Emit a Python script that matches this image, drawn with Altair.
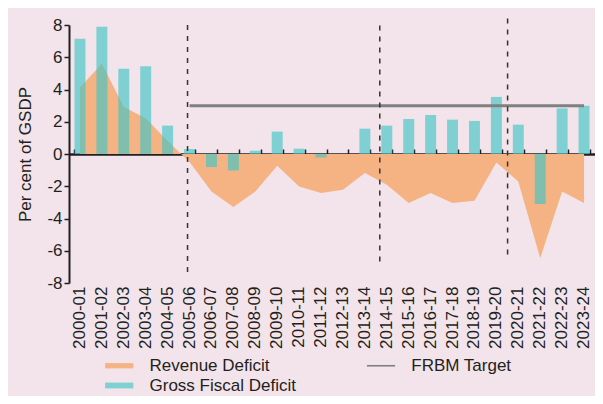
import altair as alt
import pandas as pd

years = ["2000-01", "2001-02", "2002-03", "2003-04", "2004-05", "2005-06",
         "2006-07", "2007-08", "2008-09", "2009-10", "2010-11", "2011-12",
         "2012-13", "2013-14", "2014-15", "2015-16", "2016-17", "2017-18",
         "2018-19", "2019-20", "2020-21", "2021-22", "2022-23", "2023-24"]
revenue_deficit = [4.13, 5.6, 2.92, 2.22, 0.8, -0.5, -2.32, -3.29, -2.32, -0.73,
                   -2.01, -2.42, -2.22, -1.18, -1.91, -3.04, -2.42, -3.04,
                   -2.9, -0.52, -1.7, -6.46, -2.32, -3.04]
gross_fiscal_deficit = [7.14, 7.89, 5.28, 5.44, 1.76, 0.31, -0.81, -1.02, 0.2, 1.39,
                        0.33, -0.22, 0.0, 1.57, 1.76, 2.17, 2.42, 2.13, 2.05, 3.54,
                        1.82, -3.1, 2.83, 3.0]
frbm_target = [None] * 5 + [3.0] * 19

vline_years = ["2005-06", "2014-15", "2020-21"]
vline_top = [8.0, 7.97, 8.4]
vline_bottom = [-7.4, -6.9, -6.46]
vline_shift = [-2, -7, -10.7]

y_ticks = [-8, -6, -4, -2, 0, 2, 4, 6, 8]
legend_names = ["Revenue Deficit", "FRBM Target", "Gross Fiscal Deficit"]
legend_colors = ["#f5b283", "#808080", "#7fd0d2"]
legend_shapes = ["M-2.82,-0.52L2.82,-0.52L2.82,0.52L-2.82,0.52Z",
                 "M-2.82,-0.16L2.82,-0.16L2.82,0.16L-2.82,0.16Z",
                 "M-2.82,-0.58L2.82,-0.58L2.82,0.58L-2.82,0.58Z"]

df = pd.DataFrame({"year": years, "rd": revenue_deficit,
                   "gfd": gross_fiscal_deficit, "frbm": frbm_target})
vdf = pd.DataFrame({"year": vline_years, "top": vline_top, "bottom": vline_bottom})
ldf = pd.DataFrame({"series": legend_names})

INK = "#231f20"
FONT = "Liberation Sans"

xscale = alt.Scale(paddingInner=0.5, paddingOuter=0.25)
yscale = alt.Scale(domain=[-8, 8])
yaxis = alt.Axis(values=y_ticks, title="Per cent of GSDP", grid=False,
                 labelFontSize=17, titleFontSize=17, titleFontWeight="normal",
                 labelColor=INK, titleColor=INK, domainColor=INK, domainWidth=2,
                 tickColor=INK, tickWidth=1.5, tickSize=5, labelPadding=2,
                 titlePadding=12, labelExpr="datum.value + ''")

axis_labels = alt.Axis(title=None, labelAngle=270, labelFontSize=17,
                       labelColor=INK, domain=False, ticks=False,
                       labelPadding=3, grid=False)
axis_zero = alt.Axis(title=None, labels=False, domain=True, domainColor=INK,
                     domainWidth=2.5, ticks=True, tickBand="extent",
                     tickColor=INK, tickWidth=1.5, tickSize=5, offset=-129,
                     grid=False)

base = alt.Chart(df)

area = base.mark_area(color="#f5b283").encode(
    x=alt.X("year:N", sort=years, scale=xscale, axis=axis_labels),
    y=alt.Y("rd:Q", scale=yscale, axis=yaxis),
)

bars = base.mark_bar(color="#41c5c5", opacity=0.65).encode(
    x=alt.X("year:N", sort=years, scale=xscale, axis=axis_zero),
    y=alt.Y("gfd:Q", scale=yscale, axis=yaxis),
)

frbm = base.mark_line(color="#808080", strokeWidth=3).encode(
    x=alt.X("year:N", sort=years, scale=xscale, axis=None),
    y=alt.Y("frbm:Q", scale=yscale, axis=yaxis),
)

rules = []
for i in range(len(vline_years)):
    rules.append(
        alt.Chart(vdf.iloc[[i]]).mark_rule(
            color="#333333", strokeWidth=1.5, strokeDash=[5, 6],
            xOffset=vline_shift[i]
        ).encode(
            x=alt.X("year:N", sort=years, scale=xscale, axis=None),
            y=alt.Y("top:Q", scale=yscale, axis=yaxis),
            y2="bottom:Q",
        )
    )

leg = alt.Legend(title=None, orient="none", legendX=41.75, legendY=332,
                 direction="horizontal", columns=2, columnPadding=69.75,
                 rowPadding=2, labelFontSize=17, labelColor=INK,
                 labelFont=FONT, labelOffset=21.75, symbolSize=100,
                 symbolStrokeWidth=0, symbolOpacity=1, padding=0)

legend_layer = alt.Chart(ldf).mark_point(filled=True, opacity=0, size=1).encode(
    color=alt.Color("series:N", sort=legend_names,
                    scale=alt.Scale(domain=legend_names, range=legend_colors),
                    legend=leg),
    shape=alt.Shape("series:N", sort=legend_names,
                    scale=alt.Scale(domain=legend_names, range=legend_shapes),
                    legend=leg),
)

chart = alt.layer(area, bars, frbm, *rules, legend_layer).resolve_axis(
    x="independent"
).properties(
    width=526, height=258,
    background="#f2e4ea",
    autosize=alt.AutoSizeParams(type="none"),
    padding={"left": 61, "top": 17, "right": 0, "bottom": 113},
).configure(font=FONT).configure_view(stroke=None)

chart.save("out.html", embed_options={"renderer": "svg", "actions": False})
